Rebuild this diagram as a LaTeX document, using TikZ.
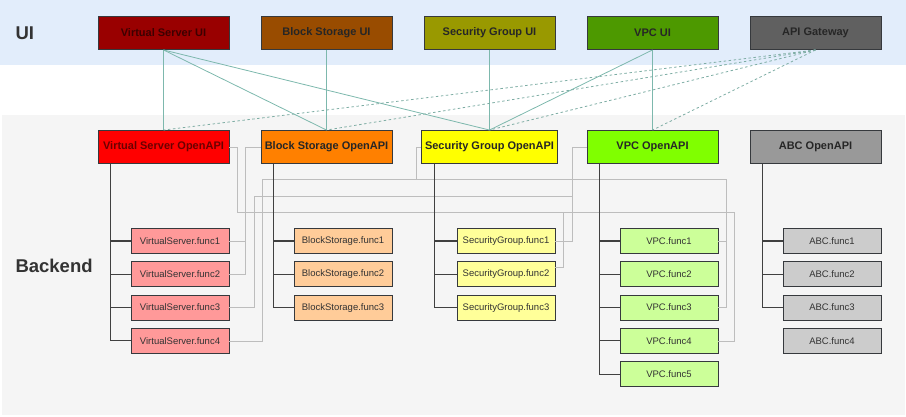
\documentclass[tikz,border=0pt]{standalone}
\usepackage{fontspec}
\setmainfont{Liberation Sans}
\usetikzlibrary{positioning}
\definecolor{uiband}{HTML}{E2EDFB}
\definecolor{backband}{HTML}{F5F5F5}
\definecolor{boxline}{HTML}{36393D}
\definecolor{vsdark}{HTML}{990000}
\definecolor{bsdark}{HTML}{994C00}
\definecolor{sgdark}{HTML}{999900}
\definecolor{vpcdark}{HTML}{4D9900}
\definecolor{gwgrey}{HTML}{606060}
\definecolor{vsmid}{HTML}{FF0000}
\definecolor{bsmid}{HTML}{FF8000}
\definecolor{sgmid}{HTML}{FFFF00}
\definecolor{vpcmid}{HTML}{80FF00}
\definecolor{abcmid}{HTML}{999999}
\definecolor{vslight}{HTML}{FF9999}
\definecolor{bslight}{HTML}{FFCC99}
\definecolor{sglight}{HTML}{FFFF99}
\definecolor{vpclight}{HTML}{CCFF99}
\definecolor{abclight}{HTML}{CCCCCC}
\definecolor{tealline}{HTML}{7DB8AD}
\definecolor{callgrey}{HTML}{BDBDBD}

\begin{document}
\begin{tikzpicture}[x=1pt, y=-1pt,
  every node/.style={align=center, text=black!85},
  uibox/.style={draw=boxline, line width=0.9pt, minimum width=131pt, minimum height=33pt, font=\fontsize{11}{13}\selectfont\bfseries},
  funcbox/.style={draw=boxline, line width=0.8pt, minimum width=98pt, minimum height=25pt, font=\fontsize{9.5}{11}\selectfont, text=black!80},
  bandtitle/.style={anchor=west, font=\fontsize{18.5}{20}\selectfont\bfseries, text=black!80},
  trunk/.style={draw=black!75, line width=1.1pt},
  uilink/.style={draw=tealline, line width=0.8pt},
  gwlink/.style={draw=tealline!80!gray, line width=0.8pt, dash pattern=on 2.5pt off 2.5pt},
  calllink/.style={draw=callgrey, line width=0.8pt}]
\useasboundingbox (0,0) rectangle (906,417);

% Bands
\fill[uiband] (0,0) rectangle (906,65);
\fill[backband] (2,115) rectangle (905,415);
\node[bandtitle] (uititle) at (12,33) {UI};
\node[bandtitle] (backtitle) at (12,266) {Backend};

% UI row
\node[uibox, fill=vsdark, text=vsdark!40!black] (vsui) at (163.5,33) {Virtual Server UI};
\node[uibox, fill=bsdark] (bsui) at (326.5,33) {Block Storage UI};
\node[uibox, fill=sgdark] (sgui) at (489.5,33) {Security Group UI};
\node[uibox, fill=vpcdark] (vpcui) at (652.5,33) {VPC UI};
\node[uibox, fill=gwgrey] (gw) at (815.5,33) {API Gateway};

% OpenAPI row
\node[uibox, fill=vsmid, text=vsdark!70!black] (vsapi) at (163.5,147) {Virtual Server OpenAPI};
\node[uibox, fill=bsmid] (bsapi) at (326.5,147) {Block Storage OpenAPI};
\node[uibox, fill=sgmid] (sgapi) at (489.5,147) {Security Group OpenAPI};
\node[uibox, fill=vpcmid] (vpcapi) at (652.5,147) {VPC OpenAPI};
\node[uibox, fill=abcmid] (abcapi) at (815.5,147) {ABC OpenAPI};

% Virtual Server functions
\node[funcbox, fill=vslight] (vsf1) at (180,241) {VirtualServer.func1};
\node[funcbox, fill=vslight, below=7.5pt of vsf1] (vsf2) {VirtualServer.func2};
\node[funcbox, fill=vslight, below=7.5pt of vsf2] (vsf3) {VirtualServer.func3};
\node[funcbox, fill=vslight, below=7.5pt of vsf3] (vsf4) {VirtualServer.func4};

% Block Storage functions
\node[funcbox, fill=bslight] (bsf1) at (343,241) {BlockStorage.func1};
\node[funcbox, fill=bslight, below=7.5pt of bsf1] (bsf2) {BlockStorage.func2};
\node[funcbox, fill=bslight, below=7.5pt of bsf2] (bsf3) {BlockStorage.func3};

% Security Group functions
\node[funcbox, fill=sglight] (sgf1) at (506,241) {SecurityGroup.func1};
\node[funcbox, fill=sglight, below=7.5pt of sgf1] (sgf2) {SecurityGroup.func2};
\node[funcbox, fill=sglight, below=7.5pt of sgf2] (sgf3) {SecurityGroup.func3};

% VPC functions
\node[funcbox, fill=vpclight] (vpcf1) at (669,241) {VPC.func1};
\node[funcbox, fill=vpclight, below=7.5pt of vpcf1] (vpcf2) {VPC.func2};
\node[funcbox, fill=vpclight, below=7.5pt of vpcf2] (vpcf3) {VPC.func3};
\node[funcbox, fill=vpclight, below=7.5pt of vpcf3] (vpcf4) {VPC.func4};
\node[funcbox, fill=vpclight, below=7.5pt of vpcf4] (vpcf5) {VPC.func5};

% ABC functions
\node[funcbox, fill=abclight] (abcf1) at (832,241) {ABC.func1};
\node[funcbox, fill=abclight, below=7.5pt of abcf1] (abcf2) {ABC.func2};
\node[funcbox, fill=abclight, below=7.5pt of abcf2] (abcf3) {ABC.func3};
\node[funcbox, fill=abclight, below=7.5pt of abcf3] (abcf4) {ABC.func4};

% UI to OpenAPI
\draw[uilink] (vsui.south) -- (vsapi.north);
\draw[uilink] (vsui.south) -- (bsapi.north);
\draw[uilink] (vsui.south) -- (sgapi.north);
\draw[uilink] (bsui.south) -- (bsapi.north);
\draw[uilink] (sgui.south) -- (sgapi.north);
\draw[uilink] (vpcui.south) -- (sgapi.north);
\draw[uilink] (vpcui.south) -- (vpcapi.north);

% Gateway routes
\draw[gwlink] (gw.south) -- (vsapi.north);
\draw[gwlink] (gw.south) -- (bsapi.north);
\draw[gwlink] (gw.south) -- (sgapi.north);
\draw[gwlink] (gw.south) -- (vpcapi.north);

% Cross calls
\draw[calllink] (vsapi.east) -- ++(8,0) |- (734,212) |- (vpcf4.east);
\draw[calllink] (vsf1.east) -- ++(16,0) |- (bsapi.west);
\draw[calllink] (vsf2.east) -- ++(16,0) |- (bsapi.west);
\draw[calllink] (vsf3.east) -- ++(24.5,0) |- (572,196) |- (vpcapi.west);
\draw[calllink] (vsf4.east) -- ++(32.5,0) |- (416,179) |- (sgapi.west);
\draw[calllink] (vpcf1.east) -- ++(8,0) |- (416,179) |- (sgapi.west);
\draw[calllink] (vpcf3.east) -- ++(8,0) |- (416,179) |- (sgapi.west);
\draw[calllink] (sgf1.east) -- ++(17,0) |- (vpcapi.west);
\draw[calllink] ([yshift=6.5pt]sgf2.east) -- ++(8,0) |- (237,212) |- (vsapi.east);

% Trunks
\draw[trunk] ([xshift=13pt]vsapi.south west) |- (vsf1.west);
\draw[trunk] ([xshift=13pt]vsapi.south west) |- (vsf2.west);
\draw[trunk] ([xshift=13pt]vsapi.south west) |- (vsf3.west);
\draw[trunk] ([xshift=13pt]vsapi.south west) |- (vsf4.west);
\draw[trunk] ([xshift=13pt]bsapi.south west) |- (bsf1.west);
\draw[trunk] ([xshift=13pt]bsapi.south west) |- (bsf2.west);
\draw[trunk] ([xshift=13pt]bsapi.south west) |- (bsf3.west);
\draw[trunk] ([xshift=13pt]sgapi.south west) |- (sgf1.west);
\draw[trunk] ([xshift=13pt]sgapi.south west) |- (sgf2.west);
\draw[trunk] ([xshift=13pt]sgapi.south west) |- (sgf3.west);
\draw[trunk] ([xshift=13pt]vpcapi.south west) |- (vpcf1.west);
\draw[trunk] ([xshift=13pt]vpcapi.south west) |- (vpcf2.west);
\draw[trunk] ([xshift=13pt]vpcapi.south west) |- (vpcf3.west);
\draw[trunk] ([xshift=13pt]vpcapi.south west) |- (vpcf4.west);
\draw[trunk] ([xshift=13pt]vpcapi.south west) |- (vpcf5.west);
\draw[trunk] ([xshift=13pt]abcapi.south west) |- (abcf1.west);
\draw[trunk] ([xshift=13pt]abcapi.south west) |- (abcf2.west);
\draw[trunk] ([xshift=13pt]abcapi.south west) |- (abcf3.west);
\end{tikzpicture}
\end{document}
